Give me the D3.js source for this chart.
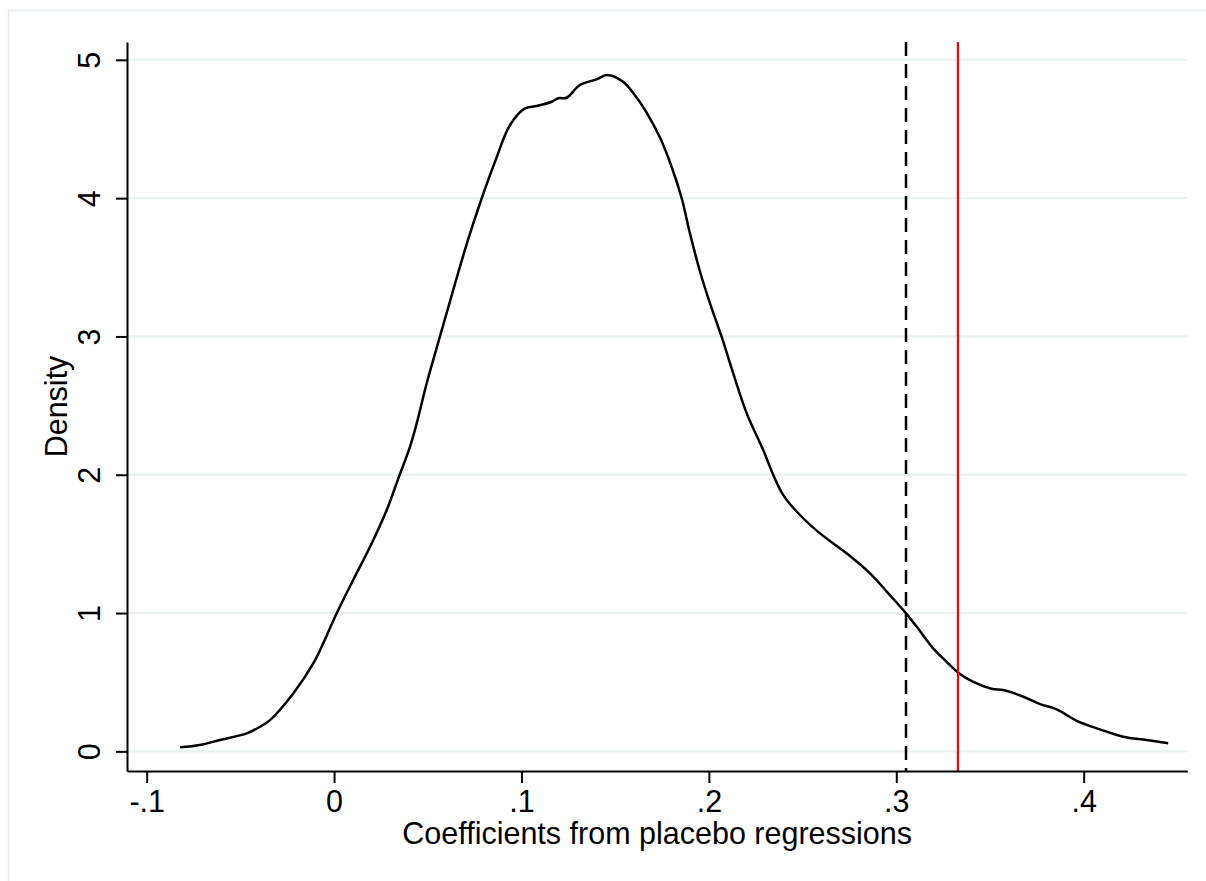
<!DOCTYPE html>
<html><head><meta charset="utf-8">
<script src="https://cdn.jsdelivr.net/npm/d3@7"></script>
<style>
body{margin:0;background:#fff}
svg{display:block}
text{font-family:"Liberation Sans",Arial,Helvetica,sans-serif;fill:#000}
</style>
</head><body>
<svg id="chart" width="1206" height="881"></svg>
<script>
// ---- data ----
const coefficients = [-0.0822,-0.0716,-0.0609,-0.0466,-0.0395,-0.0342,-0.0218,-0.0111,-0.0058,0.0014,
  0.0102,0.0192,0.0281,0.0343,0.0405,0.0441,0.0494,0.0565,0.0636,0.0715,
  0.0788,0.0862,0.0939,0.1019,0.1081,0.1161,0.1196,0.1241,0.1312,0.1401,
  0.1455,0.1539,0.1597,0.1668,0.1739,0.1801,0.1855,0.1899,0.1953,0.2006,
  0.2068,0.2130,0.2202,0.2290,0.2344,0.2397,0.2486,0.2593,0.2735,0.2860,
  0.2966,0.3052,0.3109,0.3197,0.3269,0.3329,0.3411,0.3509,0.3571,0.3678,
  0.3767,0.3856,0.3963,0.4087,0.4211,0.4336,0.4451];
const densities = [0.029,0.046,0.082,0.130,0.178,0.226,0.419,0.636,0.781,0.998,
  1.239,1.479,1.745,1.974,2.202,2.372,2.660,3.000,3.337,3.700,
  3.999,4.275,4.529,4.649,4.666,4.697,4.722,4.726,4.818,4.859,
  4.890,4.845,4.758,4.619,4.438,4.227,3.999,3.745,3.468,3.239,
  2.998,2.733,2.444,2.179,1.998,1.853,1.709,1.576,1.432,1.287,
  1.130,0.998,0.901,0.745,0.648,0.571,0.503,0.453,0.443,0.395,
  0.342,0.304,0.221,0.159,0.106,0.082,0.058];
const xTicks = [-0.1,0,0.1,0.2,0.3,0.4];
const xTickLabels = ["-.1","0",".1",".2",".3",".4"];
const yTicks = [0,1,2,3,4,5];
const yTickLabels = ["0","1","2","3","4","5"];
const dashedLineValue = 0.3052;   // black dashed reference line
const actualEstimate = 0.3329;    // red reference line
const xTitle = "Coefficients from placebo regressions";
const yTitle = "Density";

// ---- layout ----
const svg = d3.select("#chart");
const pLeft = 127, pRight = 1187.3, pTop = 42, pBottom = 771;
const x = d3.scaleLinear().domain([-0.1105, 0.4553]).range([pLeft, pRight]);
const y = d3.scaleLinear().domain([-0.142, 5.129]).range([pBottom, pTop]);
const FS = 30.5;
const FONT = '"Liberation Sans",Arial,sans-serif';

// outer frame
svg.append("rect").attr("x",8.5).attr("y",10.5).attr("width",1300).attr("height",1000)
  .attr("fill","none").attr("stroke","#e7eef0").attr("stroke-width",1.5);

// gridlines
svg.append("g").selectAll("line").data(yTicks).join("line")
  .attr("x1",pLeft+1).attr("x2",pRight)
  .attr("y1",d=>y(d)).attr("y2",d=>y(d))
  .attr("stroke","#eaf2f3").attr("stroke-width",2.4);

// density curve
const line = d3.line().x((d,i)=>x(coefficients[i])).y(d=>y(d)).curve(d3.curveCatmullRom.alpha(0.5));
svg.append("path").datum(densities).attr("d",line)
  .attr("fill","none").attr("stroke","#000").attr("stroke-width",2.5)
  .attr("stroke-linejoin","round");

// reference lines
svg.append("line").attr("x1",x(dashedLineValue)).attr("x2",x(dashedLineValue))
  .attr("y1",pTop).attr("y2",pBottom).attr("stroke","#000").attr("stroke-width",2.5)
  .attr("stroke-dasharray","14,8");
svg.append("line").attr("x1",x(actualEstimate)).attr("x2",x(actualEstimate))
  .attr("y1",pTop).attr("y2",pBottom).attr("stroke","#ff0000").attr("stroke-width",2.2);

// x axis
const xAxis = d3.axisBottom(x).tickValues(xTicks).tickFormat((d,i)=>xTickLabels[i])
  .tickSize(12).tickSizeOuter(0).tickPadding(7);
const gx = svg.append("g").attr("transform",`translate(0,${pBottom})`).call(xAxis);
gx.select(".domain").attr("stroke","#000").attr("stroke-width",2);
gx.selectAll(".tick line").attr("stroke","#000").attr("stroke-width",2);
gx.selectAll(".tick text").attr("font-size",FS).attr("fill","#000").style("font-family",FONT);

// y axis
const yAxis = d3.axisLeft(y).tickValues(yTicks).tickFormat((d,i)=>yTickLabels[i])
  .tickSize(11).tickSizeOuter(0);
const gy = svg.append("g").attr("transform",`translate(${pLeft},0)`).call(yAxis);
gy.select(".domain").attr("stroke","#000").attr("stroke-width",2);
gy.selectAll(".tick line").attr("stroke","#000").attr("stroke-width",2);
gy.selectAll(".tick text").attr("font-size",FS).attr("fill","#000").style("font-family",FONT)
  .attr("transform","rotate(-90)").attr("x",0).attr("y",-27).attr("dy",0)
  .attr("text-anchor","middle");

// titles
svg.append("text").attr("x",(pLeft+pRight)/2).attr("y",844).attr("text-anchor","middle")
  .attr("font-size",FS).style("font-family",FONT).text(xTitle);
svg.append("text").attr("transform",`translate(66.7,${(pTop+pBottom)/2}) rotate(-90)`)
  .attr("text-anchor","middle").attr("font-size",FS).style("font-family",FONT).text(yTitle);
</script>
</body></html>
